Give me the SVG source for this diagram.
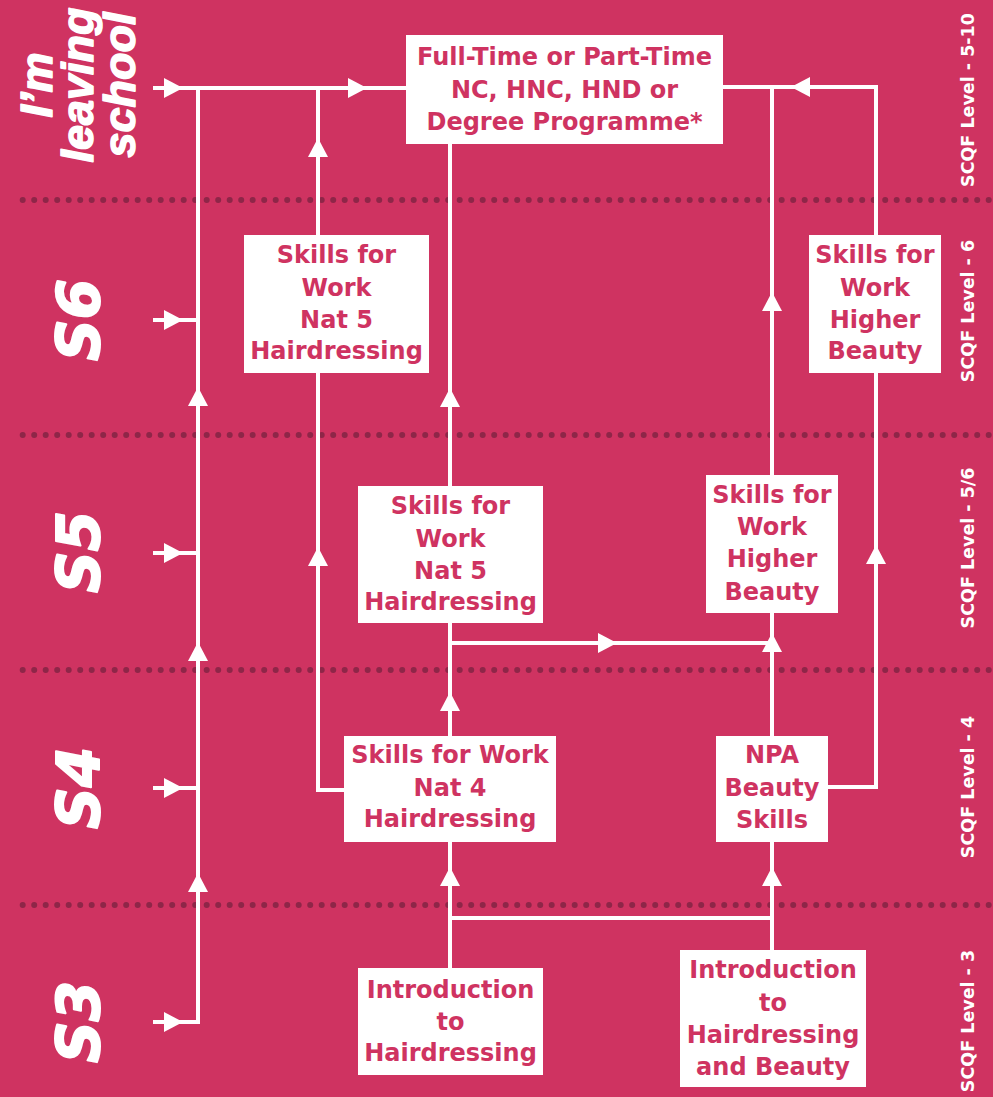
<svg xmlns="http://www.w3.org/2000/svg" width="993" height="1097" viewBox="0 0 993 1097">
<style>
.bg{fill:#CF3361}
.dots{stroke:#8E2648;stroke-width:6;stroke-linecap:round;stroke-dasharray:0 11.5;fill:none}
.box{fill:#FFFFFF}
.bt{font-family:"DejaVu Sans",sans-serif;font-weight:bold;font-size:24px;fill:#CF3361;text-anchor:middle}
.ln{stroke:#FFFFFF;stroke-width:4;fill:none}
.ah{fill:#FFFFFF}
.yr{font-family:"DejaVu Sans",sans-serif;font-weight:bold;font-style:italic;font-size:58px;fill:#FFFFFF;stroke:#FFFFFF;stroke-width:2;stroke-linejoin:round;text-anchor:middle}
.lv{font-family:"Liberation Sans",Arial,sans-serif;font-weight:bold;font-style:italic;font-size:45px;fill:#FFFFFF;stroke:#FFFFFF;stroke-width:1.5;stroke-linejoin:round;text-anchor:middle}
.sc{font-family:"DejaVu Sans",sans-serif;font-weight:bold;font-size:17.5px;fill:#FFFFFF;text-anchor:middle}
</style>
<rect class="bg" x="0" y="0" width="993" height="1097"/>
<g id="dividers">
<line class="dots" x1="22.7" y1="200" x2="993" y2="200"/>
<line class="dots" x1="22.7" y1="435" x2="993" y2="435"/>
<line class="dots" x1="22.7" y1="670" x2="993" y2="670"/>
<line class="dots" x1="22.7" y1="905" x2="993" y2="905"/>
</g>
<g id="year-labels">
<text class="lv" transform="translate(52,85) rotate(-90)">I’m</text>
<text class="lv" transform="translate(93,85) rotate(-90)">leaving</text>
<text class="lv" transform="translate(135,85) rotate(-90)">school</text>
<text class="yr" transform="translate(99,320) rotate(-90)">S6</text>
<text class="yr" transform="translate(99,552) rotate(-90)">S5</text>
<text class="yr" transform="translate(99,788) rotate(-90)">S4</text>
<text class="yr" transform="translate(99,1022) rotate(-90)">S3</text>
</g>
<g id="scqf-labels">
<text class="sc" transform="translate(974,100) rotate(-90)">SCQF Level - 5-10</text>
<text class="sc" transform="translate(974,311) rotate(-90)">SCQF Level - 6</text>
<text class="sc" transform="translate(974,548) rotate(-90)">SCQF Level - 5/6</text>
<text class="sc" transform="translate(974,787) rotate(-90)">SCQF Level - 4</text>
<text class="sc" transform="translate(974,1021) rotate(-90)">SCQF Level - 3</text>
</g>
<g id="connectors">
<line class="ln" x1="153" y1="88" x2="406" y2="88"/>
<line class="ln" x1="153" y1="320" x2="198" y2="320"/>
<line class="ln" x1="153" y1="553" x2="198" y2="553"/>
<line class="ln" x1="153" y1="788" x2="198" y2="788"/>
<polyline class="ln" points="153,1022 198,1022 198,88"/>
<line class="ln" x1="318" y1="88" x2="318" y2="235"/>
<polyline class="ln" points="318,373 318,790 344,790"/>
<line class="ln" x1="450" y1="144" x2="450" y2="486"/>
<line class="ln" x1="450" y1="623" x2="450" y2="736"/>
<line class="ln" x1="450" y1="842" x2="450" y2="968"/>
<line class="ln" x1="450" y1="643" x2="772" y2="643"/>
<line class="ln" x1="450" y1="918" x2="772" y2="918"/>
<polyline class="ln" points="772,475 772,87 723,87"/>
<line class="ln" x1="772" y1="613" x2="772" y2="736"/>
<line class="ln" x1="772" y1="842" x2="772" y2="950"/>
<polyline class="ln" points="772,87 876,87 876,235"/>
<polyline class="ln" points="828,787 876,787 876,373"/>
<polygon class="ah" points="183,88 164,78 164,98"/>
<polygon class="ah" points="367,88 348,78 348,98"/>
<polygon class="ah" points="183,320 164,310 164,330"/>
<polygon class="ah" points="183,553 164,543 164,563"/>
<polygon class="ah" points="183,788 164,778 164,798"/>
<polygon class="ah" points="183,1022 164,1012 164,1032"/>
<polygon class="ah" points="617,643 598,633 598,653"/>
<polygon class="ah" points="791,87 810,77 810,97"/>
<polygon class="ah" points="198,387 188,406 208,406"/>
<polygon class="ah" points="198,642 188,661 208,661"/>
<polygon class="ah" points="198,873 188,892 208,892"/>
<polygon class="ah" points="318,138 308,157 328,157"/>
<polygon class="ah" points="318,547 308,566 328,566"/>
<polygon class="ah" points="450,388 440,407 460,407"/>
<polygon class="ah" points="450,692 440,711 460,711"/>
<polygon class="ah" points="450,867 440,886 460,886"/>
<polygon class="ah" points="772,292 762,311 782,311"/>
<polygon class="ah" points="772,633 762,652 782,652"/>
<polygon class="ah" points="772,867 762,886 782,886"/>
<polygon class="ah" points="876,545 866,564 886,564"/>
</g>
<g id="n-fulltime">
<rect class="box" x="406" y="35" width="317" height="109"/>
<text class="bt" x="564.5" y="65">Full-Time or Part-Time</text>
<text class="bt" x="564.5" y="98">NC, HNC, HND or</text>
<text class="bt" x="564.5" y="130">Degree Programme*</text>
</g>
<g id="n-s6-hair">
<rect class="box" x="244" y="235" width="185" height="138"/>
<text class="bt" x="336.5" y="263">Skills for</text>
<text class="bt" x="336.5" y="296">Work</text>
<text class="bt" x="336.5" y="328">Nat 5</text>
<text class="bt" x="336.5" y="359">Hairdressing</text>
</g>
<g id="n-s6-beauty">
<rect class="box" x="809" y="235" width="132" height="138"/>
<text class="bt" x="875" y="263">Skills for</text>
<text class="bt" x="875" y="296">Work</text>
<text class="bt" x="875" y="328">Higher</text>
<text class="bt" x="875" y="359">Beauty</text>
</g>
<g id="n-s5-hair">
<rect class="box" x="358" y="486" width="185" height="137"/>
<text class="bt" x="450.5" y="514">Skills for</text>
<text class="bt" x="450.5" y="547">Work</text>
<text class="bt" x="450.5" y="579">Nat 5</text>
<text class="bt" x="450.5" y="610">Hairdressing</text>
</g>
<g id="n-s5-beauty">
<rect class="box" x="706" y="475" width="132" height="138"/>
<text class="bt" x="772" y="503">Skills for</text>
<text class="bt" x="772" y="535">Work</text>
<text class="bt" x="772" y="567">Higher</text>
<text class="bt" x="772" y="600">Beauty</text>
</g>
<g id="n-s4-hair">
<rect class="box" x="344" y="736" width="212" height="106"/>
<text class="bt" x="450" y="763">Skills for Work</text>
<text class="bt" x="450" y="796">Nat 4</text>
<text class="bt" x="450" y="827">Hairdressing</text>
</g>
<g id="n-s4-npa">
<rect class="box" x="716" y="736" width="112" height="106"/>
<text class="bt" x="772" y="763">NPA</text>
<text class="bt" x="772" y="796">Beauty</text>
<text class="bt" x="772" y="828">Skills</text>
</g>
<g id="n-s3-intro-hair">
<rect class="box" x="358" y="968" width="185" height="107"/>
<text class="bt" x="450.5" y="998">Introduction</text>
<text class="bt" x="450.5" y="1030">to</text>
<text class="bt" x="450.5" y="1061">Hairdressing</text>
</g>
<g id="n-s3-intro-hb">
<rect class="box" x="680" y="950" width="186" height="137"/>
<text class="bt" x="773" y="978">Introduction</text>
<text class="bt" x="773" y="1011">to</text>
<text class="bt" x="773" y="1043">Hairdressing</text>
<text class="bt" x="773" y="1075">and Beauty</text>
</g>
</svg>
